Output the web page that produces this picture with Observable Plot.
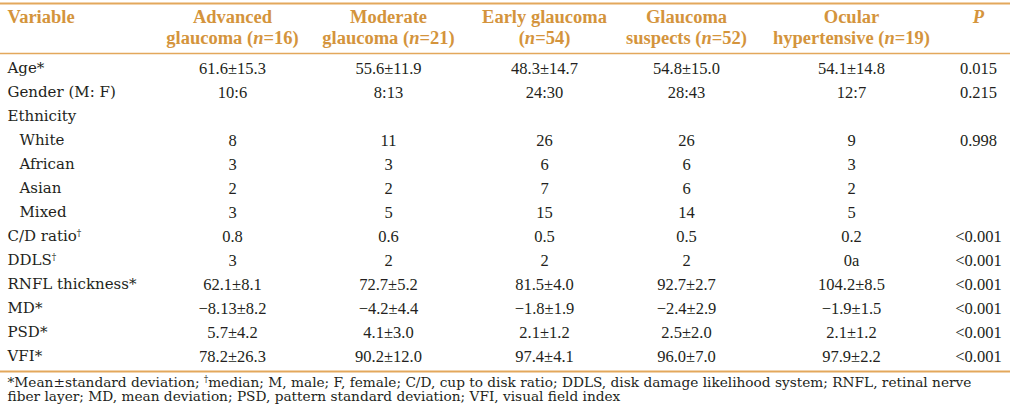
<!DOCTYPE html>
<html>
<head>
<meta charset="utf-8">
<script src="https://cdn.jsdelivr.net/npm/d3@7"></script>
<script src="https://cdn.jsdelivr.net/npm/@observablehq/plot@0.6"></script>
<style>
  html, body { margin: 0; padding: 0; background: #fff; }
  #chart svg { display: block; }
</style>
</head>
<body>
<div id="chart"></div>
<script>
// ---- Data ----
const rowLabels = ["Age*", "Gender (M: F)", "Ethnicity", "White", "African", "Asian", "Mixed",
  "C/D ratio†", "DDLS†", "RNFL thickness*", "MD*", "PSD*", "VFI*"];
const indentedRows = ["White", "African", "Asian", "Mixed"];

const headerLine1 = ["Advanced", "Moderate", "Early glaucoma", "Glaucoma", "Ocular"];
const headerLine2 = ["glaucoma (n=16)", "glaucoma (n=21)", "(n=54)", "suspects (n=52)", "hypertensive (n=19)"];
const firstHeader = "Variable";
const pHeader = "P";

const advanced = ["61.6±15.3", "10:6", "", "8", "3", "2", "3", "0.8", "3", "62.1±8.1", "−8.13±8.2", "5.7±4.2", "78.2±26.3"];
const moderate = ["55.6±11.9", "8:13", "", "11", "3", "2", "5", "0.6", "2", "72.7±5.2", "−4.2±4.4", "4.1±3.0", "90.2±12.0"];
const early    = ["48.3±14.7", "24:30", "", "26", "6", "7", "15", "0.5", "2", "81.5±4.0", "−1.8±1.9", "2.1±1.2", "97.4±4.1"];
const suspects = ["54.8±15.0", "28:43", "", "26", "6", "6", "14", "0.5", "2", "92.7±2.7", "−2.4±2.9", "2.5±2.0", "96.0±7.0"];
const ocular   = ["54.1±14.8", "12:7", "", "9", "3", "2", "5", "0.2", "0a", "104.2±8.5", "−1.9±1.5", "2.1±1.2", "97.9±2.2"];
const pValues  = ["0.015", "0.215", "", "0.998", "", "", "", "<0.001", "<0.001", "<0.001", "<0.001", "<0.001", "<0.001"];

const footnote = "*Mean±standard deviation; †median; M, male; F, female; C/D, cup to disk ratio; DDLS, disk damage likelihood system; RNFL, retinal nerve\nfiber layer; MD, mean deviation; PSD, pattern standard deviation; VFI, visual field index";

// ---- Tables built from the arrays ----
const series = [advanced, moderate, early, suspects, ocular, pValues];
const cells = [];
series.forEach((vals, j) => vals.forEach((v, i) => { if (v) cells.push({col: j + 1, row: rowLabels[i], value: v}); }));
const headers = headerLine1.map((h, j) => ({col: j + 1, line1: h, line2: headerLine2[j]}));
const topLabels = rowLabels.filter(r => !indentedRows.includes(r));
const subLabels = rowLabels.filter(r => indentedRows.includes(r));

// ---- Styles ----
const headColor = "#d4943c";
const ruleColor = "#e3a85c";
const ink = "#231f20";
const labelFont = "'DejaVu Serif', serif";
const numFont = "'Liberation Serif', serif";
const first = rowLabels[0], last = rowLabels[rowLabels.length - 1];

const svg = Plot.plot({
  width: 1010,
  height: 413,
  margin: 0,
  style: {background: "#fff", fontFamily: numFont},
  x: {type: "linear", domain: [0, 1, 2, 3, 4, 5, 6], range: [7, 232, 388, 544, 686, 851, 978], axis: null},
  y: {type: "point", domain: rowLabels, range: [66.7, 357], padding: 0, axis: null},
  marks: [
    Plot.ruleY([first], {dy: -65, stroke: ruleColor, strokeWidth: 2}),
    Plot.ruleY([first], {dy: -15, stroke: ruleColor, strokeWidth: 1.5}),
    Plot.ruleY([last], {dy: 15, stroke: ruleColor, strokeWidth: 2}),
    // header
    Plot.text([firstHeader], {x: () => 0, y: () => first, text: d => d, dy: -51, textAnchor: "start",
      fill: headColor, fontWeight: "bold", fontSize: 18.5, fontFamily: numFont}),
    Plot.text([pHeader], {x: () => 6, y: () => first, text: d => d, dy: -51,
      fill: headColor, fontWeight: "bold", fontStyle: "italic", fontSize: 18.5, fontFamily: numFont}),
    Plot.text(headers, {x: "col", y: () => first, text: "line1", dy: -51,
      fill: headColor, fontWeight: "bold", fontSize: 18.5, fontFamily: numFont}),
    Plot.text(headers, {x: "col", y: () => first, text: "line2", dy: -30,
      fill: headColor, fontWeight: "bold", fontSize: 18.5, fontFamily: numFont}),
    // row labels
    Plot.text(topLabels, {x: () => 0, y: d => d, text: d => d, textAnchor: "start",
      fill: ink, fontSize: 15, fontFamily: labelFont}),
    Plot.text(subLabels, {x: () => 0, y: d => d, text: d => d, textAnchor: "start", dx: 12,
      fill: ink, fontSize: 15, fontFamily: labelFont}),
    // values
    Plot.text(cells, {x: "col", y: "row", text: "value", fill: ink, fontSize: 16.5, fontFamily: numFont}),
    // footnote
    Plot.text([footnote], {x: () => 0, y: () => last, text: d => d, dy: 33, textAnchor: "start",
      lineHeight: 1.03, fill: ink, fontSize: 13.7, fontFamily: labelFont})
  ]
});

// italic "n" and superscript daggers as real text spans
function enrich(root) {
  const ns = "http://www.w3.org/2000/svg";
  const walker = document.createTreeWalker(root, NodeFilter.SHOW_TEXT);
  const nodes = [];
  while (walker.nextNode()) nodes.push(walker.currentNode);
  for (const node of nodes) {
    const s = node.nodeValue;
    if (!/\(n=|†/.test(s)) continue;
    const frag = document.createDocumentFragment();
    for (const p of s.split(/(\(n=|†)/)) {
      if (p === "(n=") {
        frag.append("(");
        const t = document.createElementNS(ns, "tspan");
        t.setAttribute("font-style", "italic");
        t.textContent = "n";
        frag.append(t);
        frag.append("=");
      } else if (p === "†") {
        const t = document.createElementNS(ns, "tspan");
        t.setAttribute("baseline-shift", "super");
        t.setAttribute("font-size", "0.6em");
        t.textContent = "†";
        frag.append(t);
      } else if (p) frag.append(p);
    }
    node.replaceWith(frag);
  }
}
enrich(svg);
document.getElementById("chart").append(svg);
</script>
</body>
</html>
